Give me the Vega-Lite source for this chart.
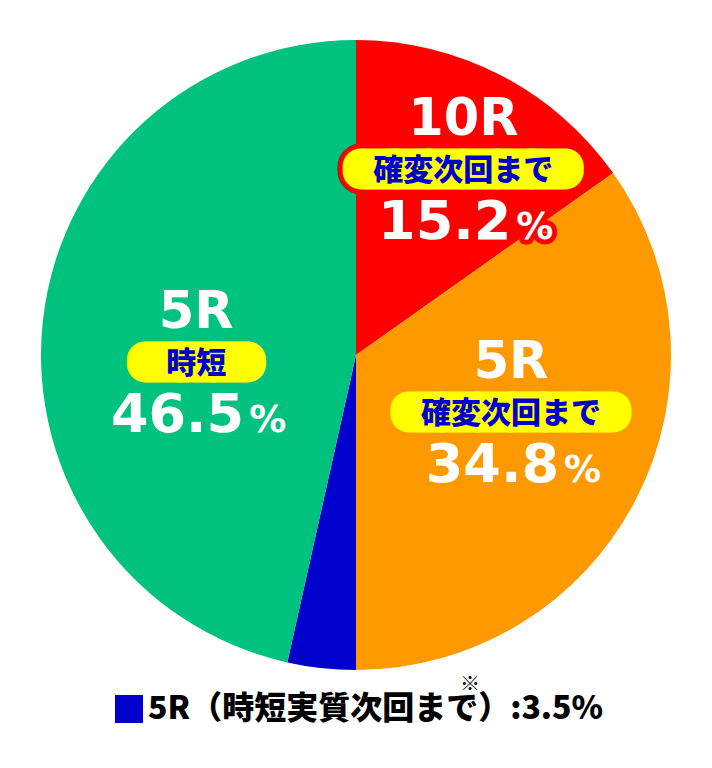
{
  "$schema": "https://vega.github.io/schema/vega-lite/v6.json",
  "width": 712,
  "height": 710,
  "padding": {"left": 0, "top": 0, "right": 0, "bottom": 40},
  "background": "white",
  "config": {"view": {"stroke": null}},
  "data": {
    "values": [
      {"no": 1, "key": "10R 確変次回まで", "top": "10R", "badge": "確変次回まで", "value": 15.2},
      {"no": 2, "key": "5R 確変次回まで", "top": "5R", "badge": "確変次回まで", "value": 34.8},
      {"no": 3, "key": "5R（時短実質次回まで）:3.5%", "top": "", "badge": "", "value": 3.5},
      {"no": 4, "key": "5R 時短", "top": "5R", "badge": "時短", "value": 46.5}
    ]
  },
  "resolve": {"scale": {"theta": "independent"}},
  "layer": [
    {
      "mark": {"type": "arc", "outerRadius": 315, "stroke": null},
      "encoding": {
        "theta": {"field": "value", "type": "quantitative", "stack": true},
        "order": {"field": "no", "type": "quantitative"},
        "color": {
          "field": "key",
          "type": "nominal",
          "scale": {
            "domain": ["10R 確変次回まで", "5R 確変次回まで", "5R（時短実質次回まで）:3.5%", "5R 時短"],
            "range": ["#FF0000", "#FF9900", "#0000CC", "#00C27F"]
          },
          "legend": {
            "values": ["5R（時短実質次回まで）:3.5%"],
            "orient": "none",
            "legendX": 113,
            "legendY": 693,
            "title": null,
            "padding": 0,
            "symbolType": "square",
            "symbolSize": 784,
            "symbolStrokeWidth": 0,
            "labelFont": "Noto Sans CJK JP",
            "labelFontWeight": 900,
            "labelFontSize": 32,
            "labelColor": "#000000",
            "labelLimit": 0,
            "labelOffset": 3
          }
        }
      }
    },
    {
      "encoding": {
        "theta": {
          "field": "value",
          "type": "quantitative",
          "stack": true,
          "scale": {"type": "pow", "exponent": 1.1, "domain": [0, 100], "range": [0.169, 6.189]}
        },
        "radius": {
          "field": "value",
          "type": "quantitative",
          "scale": {"type": "pow", "exponent": -2, "domain": [15.2, 46.5], "range": [215, 160], "clamp": true}
        },
        "order": {"field": "no", "type": "quantitative"}
      },
      "layer": [
        {
          "mark": {"type": "text", "font": "Noto Sans CJK JP", "fontSize": 34, "align": "center", "baseline": "middle", "dy": 3, "strokeWidth": 47, "strokeJoin": "round", "strokeCap": "round"},
          "encoding": {
            "text": {
              "condition": [
                {"test": "datum.top === ''", "value": ""},
                {"test": "length(datum.badge) < 4", "value": "━━━"}
              ],
              "value": "━━━━━━"
            },
            "color": {"field": "key", "type": "nominal"},
            "stroke": {
              "field": "no",
              "type": "nominal",
              "scale": {
                "domain": [1, 2, 3, 4],
                "range": ["#FF0000", "#FF9900", "#0000CC", "#00C27F"]
              },
              "legend": {
                "values": [3],
                "labelExpr": "'※'",
                "orient": "none",
                "legendX": 440,
                "legendY": 675,
                "title": null,
                "padding": 0,
                "symbolSize": 0,
                "symbolOpacity": 0,
                "symbolStrokeWidth": 0,
                "labelOffset": 0,
                "labelFont": "Noto Sans CJK JP",
                "labelFontSize": 20,
                "labelColor": "#000000"
              }
            }
          }
        },
        {
          "mark": {"type": "text", "font": "Noto Sans CJK JP", "fontSize": 34, "align": "center", "baseline": "middle", "dy": 3, "fill": "#FFFF00", "stroke": "#FFFF00", "strokeWidth": 37, "strokeJoin": "round", "strokeCap": "round"},
          "encoding": {
            "text": {
              "condition": [
                {"test": "datum.top === ''", "value": ""},
                {"test": "length(datum.badge) < 4", "value": "━━━"}
              ],
              "value": "━━━━━━"
            }
          }
        },
        {
          "mark": {"type": "text", "font": "Noto Sans CJK JP", "fontWeight": 900, "fontSize": 30, "align": "center", "baseline": "middle", "dy": 2, "fill": "#0000CC"},
          "encoding": {"text": {"field": "badge", "type": "nominal"}}
        },
        {
          "mark": {"type": "text", "font": "DejaVu Sans", "fontWeight": "bold", "fontSize": 51, "align": "center", "baseline": "alphabetic", "dy": -34, "fill": "#FFFFFF"},
          "encoding": {"text": {"field": "top", "type": "nominal"}}
        },
        {
          "mark": {"type": "text", "font": "DejaVu Sans", "fontWeight": "bold", "fontSize": 54, "align": "right", "baseline": "alphabetic", "dx": 48, "dy": 70, "strokeWidth": 10, "strokeJoin": "round"},
          "encoding": {
            "text": {
              "condition": {"test": "datum.top === ''", "value": ""},
              "field": "value",
              "type": "quantitative",
              "format": ".1f"
            },
            "color": {"field": "key", "type": "nominal"},
            "stroke": {"field": "no", "type": "nominal"}
          }
        },
        {
          "mark": {"type": "text", "font": "DejaVu Sans", "fontWeight": "bold", "fontSize": 37, "align": "left", "baseline": "alphabetic", "dx": 53, "dy": 70, "strokeWidth": 10, "strokeJoin": "round"},
          "encoding": {
            "text": {"condition": {"test": "datum.top === ''", "value": ""}, "value": "%"},
            "color": {"field": "key", "type": "nominal"},
            "stroke": {"field": "no", "type": "nominal"}
          }
        },
        {
          "mark": {"type": "text", "font": "DejaVu Sans", "fontWeight": "bold", "fontSize": 54, "align": "right", "baseline": "alphabetic", "dx": 48, "dy": 70, "fill": "#FFFFFF"},
          "encoding": {
            "text": {
              "condition": {"test": "datum.top === ''", "value": ""},
              "field": "value",
              "type": "quantitative",
              "format": ".1f"
            }
          }
        },
        {
          "mark": {"type": "text", "font": "DejaVu Sans", "fontWeight": "bold", "fontSize": 37, "align": "left", "baseline": "alphabetic", "dx": 53, "dy": 70, "fill": "#FFFFFF"},
          "encoding": {
            "text": {"condition": {"test": "datum.top === ''", "value": ""}, "value": "%"}
          }
        }
      ]
    }
  ]
}
